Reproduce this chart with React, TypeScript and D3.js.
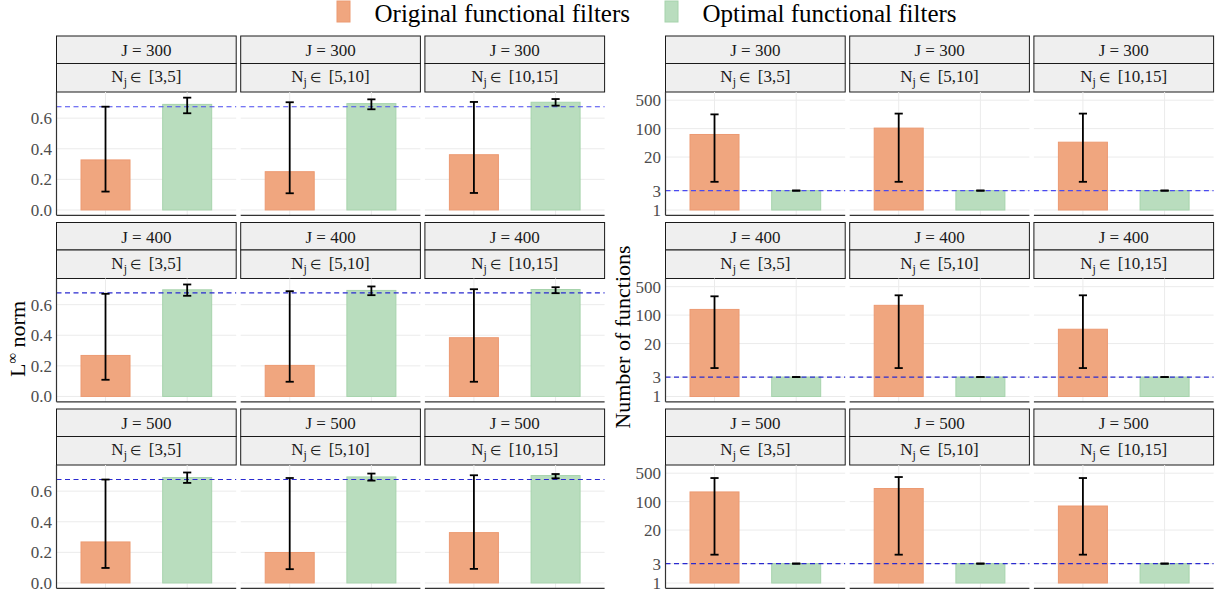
import React, { useEffect, useRef } from 'react';
import * as d3 from 'd3';

const W = 1225;
const H = 592;

const groups = ['Original functional filters', 'Optimal functional filters'];
const groupFill = ['#F0A67F', '#B9DDBE'];
const groupStroke = ['#EC9A72', '#A6D3AC'];
const jValues = [300, 400, 500];
const nRanges = ['[3,5]', '[5,10]', '[10,15]'];

// L-infinity norm: rows = J, cols = N_j range
const normOrigMean = [[0.327, 0.25, 0.361], [0.268, 0.203, 0.384], [0.268, 0.199, 0.329]];
const normOrigLo = [[0.12, 0.109, 0.111], [0.109, 0.096, 0.096], [0.098, 0.09, 0.092]];
const normOrigHi = [[0.675, 0.704, 0.706], [0.671, 0.688, 0.701], [0.676, 0.686, 0.704]];
const normOptMean = [[0.69, 0.695, 0.704], [0.697, 0.693, 0.699], [0.689, 0.693, 0.702]];
const normOptLo = [[0.632, 0.658, 0.682], [0.658, 0.662, 0.675], [0.654, 0.669, 0.684]];
const normOptHi = [[0.734, 0.723, 0.725], [0.732, 0.719, 0.714], [0.722, 0.715, 0.712]];
const normRef = [0.675, 0.677, 0.676];
const normTicks = [0, 0.2, 0.4, 0.6];

// number of functions (log scale)
const countOrigMean = [[71.8, 103, 46.4], [138, 174, 45], [173, 210, 78]];
const countOrigLo = [[4.93, 4.93, 4.93], [5, 5, 5], [4.97, 4.97, 4.97]];
const countOrigHi = [[224, 234, 234], [290, 307, 307], [380, 402, 380]];
const countOptMean = [[3, 3, 3], [3, 3, 3], [3, 3, 3]];
const countOptLo = [[3, 3, 3], [3, 3, 3], [3, 3, 3]];
const countOptHi = [[3, 3, 3], [3, 3, 3], [3, 3, 3]];
const countRef = [3, 3, 3];
const countTicks = [1, 3, 20, 100, 500];

const FONT = "'Liberation Serif', 'Times New Roman', Times, serif";

export default function App() {
  const svgRef = useRef<SVGSVGElement>(null);

  useEffect(() => {
    if (!svgRef.current) return;
    const svg = d3.select(svgRef.current);
    svg.selectAll('*').remove();

    const sideX0 = [56.5, 665.5];
    const pitchX = 184.2;
    const panelW = 179.7;
    const rowTop = [36, 222.5, 409];
    const strip1H = 27.5;
    const strip2H = 28.5;
    const panelH = 123.3;

    const x = d3.scalePoint<string>().domain(groups).range([0, panelW]).padding(0.6);
    const step = x.step();
    const barW = step * 0.6;
    const capW = step * 0.1;

    const sides = [
      {
        y: () => d3.scaleLinear().domain([-0.035, 0.771]),
        base: 0,
        ticks: normTicks,
        fmt: (d: number) => d3.format('.1f')(d),
        mean: [normOrigMean, normOptMean],
        lo: [normOrigLo, normOptLo],
        hi: [normOrigHi, normOptHi],
        ref: normRef,
      },
      {
        y: () => d3.scaleLog().domain([Math.pow(10, -0.13), Math.pow(10, 2.9)]),
        base: 1,
        ticks: countTicks,
        fmt: (d: number) => String(d),
        mean: [countOrigMean, countOptMean],
        lo: [countOrigLo, countOptLo],
        hi: [countOrigHi, countOptHi],
        ref: countRef,
      },
    ];

    sides.forEach((side, s) => {
      jValues.forEach((J, r) => {
        const top = rowTop[r];
        const pTop = top + strip1H + strip2H;
        const pBottom = pTop + panelH;
        const y = (side.y() as any).range([pBottom, pTop]);

        nRanges.forEach((nr, c) => {
          const left = sideX0[s] + c * pitchX;
          const g = svg.append('g').attr('transform', `translate(${left},0)`);

          // strips
          g.append('rect').attr('x', 0).attr('y', top).attr('width', panelW).attr('height', strip1H)
            .attr('fill', '#efefef').attr('stroke', '#1a1a1a').attr('stroke-width', 1);
          g.append('rect').attr('x', 0).attr('y', top + strip1H).attr('width', panelW).attr('height', strip2H)
            .attr('fill', '#efefef').attr('stroke', '#1a1a1a').attr('stroke-width', 1);
          g.append('text').attr('x', panelW / 2).attr('y', top + 20)
            .attr('text-anchor', 'middle').style('font-family', FONT).attr('font-size', 17)
            .attr('fill', '#1a1a1a').text(`J = ${J}`);
          const t2 = g.append('text').attr('x', panelW / 2).attr('y', top + strip1H + 18.5)
            .attr('text-anchor', 'middle').style('font-family', FONT).attr('font-size', 17)
            .style('white-space', 'pre').attr('fill', '#1a1a1a');
          t2.append('tspan').text('N');
          t2.append('tspan').attr('font-size', 12).attr('dy', 4).text('j');
          t2.append('tspan').attr('dy', -4).attr('font-size', 13).text(' \u2208 ');
          t2.append('tspan').text(` ${nr}`);

          // grid
          g.selectAll('.hgrid').data(side.ticks).join('line')
            .attr('x1', 0).attr('x2', panelW)
            .attr('y1', (d: number) => y(d)).attr('y2', (d: number) => y(d))
            .attr('stroke', '#ebebeb').attr('stroke-width', 1);
          g.selectAll('.vgrid').data(groups).join('line')
            .attr('x1', (d) => x(d)!).attr('x2', (d) => x(d)!)
            .attr('y1', pTop).attr('y2', pBottom)
            .attr('stroke', '#ebebeb').attr('stroke-width', 1);

          // bars
          groups.forEach((grp, k) => {
            const m = side.mean[k][r][c];
            g.append('rect')
              .attr('x', x(grp)! - barW / 2)
              .attr('width', barW)
              .attr('y', y(m))
              .attr('height', y(side.base) - y(m))
              .attr('fill', groupFill[k])
              .attr('stroke', groupStroke[k])
              .attr('stroke-width', 1);
          });

          // reference line
          g.append('line').attr('x1', 0).attr('x2', panelW)
            .attr('y1', y(side.ref[r])).attr('y2', y(side.ref[r]))
            .attr('stroke', r === 0 ? '#4a4af0' : '#2a2ad0').attr('stroke-width', 1.1)
            .attr('stroke-dasharray', '5,3.5');

          // error bars
          groups.forEach((grp, k) => {
            const cx = x(grp)!;
            const lo = y(side.lo[k][r][c]);
            const hi = y(side.hi[k][r][c]);
            const eg = g.append('g').attr('stroke', '#000').attr('stroke-width', 1.8);
            eg.append('line').attr('x1', cx).attr('x2', cx).attr('y1', lo).attr('y2', hi);
            eg.append('line').attr('x1', cx - capW / 2).attr('x2', cx + capW / 2).attr('y1', lo).attr('y2', lo);
            eg.append('line').attr('x1', cx - capW / 2).attr('x2', cx + capW / 2).attr('y1', hi).attr('y2', hi);
          });

          // bottom axis line
          g.append('line').attr('x1', 0).attr('x2', panelW).attr('y1', pBottom).attr('y2', pBottom)
            .attr('stroke', '#333').attr('stroke-width', 1.2);

          if (c === 0) {
            g.append('line').attr('x1', 0).attr('x2', 0).attr('y1', pTop).attr('y2', pBottom)
              .attr('stroke', '#333').attr('stroke-width', 1.2);
            g.selectAll('.tick').data(side.ticks).join('text')
              .attr('x', -4.5).attr('y', (d: number) => y(d)).attr('dy', '0.35em')
              .attr('text-anchor', 'end').style('font-family', FONT).attr('font-size', 17)
              .attr('fill', '#4d4d4d').text((d: number) => side.fmt(d));
          }
        });
      });
    });

    // axis titles
    const lt = svg.append('text').attr('transform', 'translate(25,339) rotate(-90)')
      .attr('text-anchor', 'middle').style('font-family', FONT).style('white-space', 'pre')
      .attr('font-size', 22).attr('fill', '#000');
    lt.append('tspan').text('L');
    lt.append('tspan').attr('dy', -8).attr('font-size', 15).text('\u221E');
    lt.append('tspan').attr('dy', 8).text(' norm');

    svg.append('text').attr('transform', 'translate(630,337) rotate(-90)')
      .attr('text-anchor', 'middle').style('font-family', FONT).attr('font-size', 22).attr('fill', '#000')
      .text('Number of functions');

    // legend
    const legX = [337, 665];
    groups.forEach((grp, k) => {
      svg.append('rect').attr('x', legX[k]).attr('y', 1).attr('width', 13).attr('height', 21)
        .attr('fill', groupFill[k]).attr('stroke', groupStroke[k]).attr('stroke-width', 1);
      svg.append('text').attr('x', legX[k] + 37.5).attr('y', 22.3)
        .style('font-family', FONT).attr('font-size', 25).attr('fill', '#000').text(grp);
    });
  }, []);

  return (
    <svg
      ref={svgRef}
      width={W}
      height={H}
      style={{ position: 'absolute', left: 0, top: 0, background: '#fff', fontFamily: FONT }}
    />
  );
}
